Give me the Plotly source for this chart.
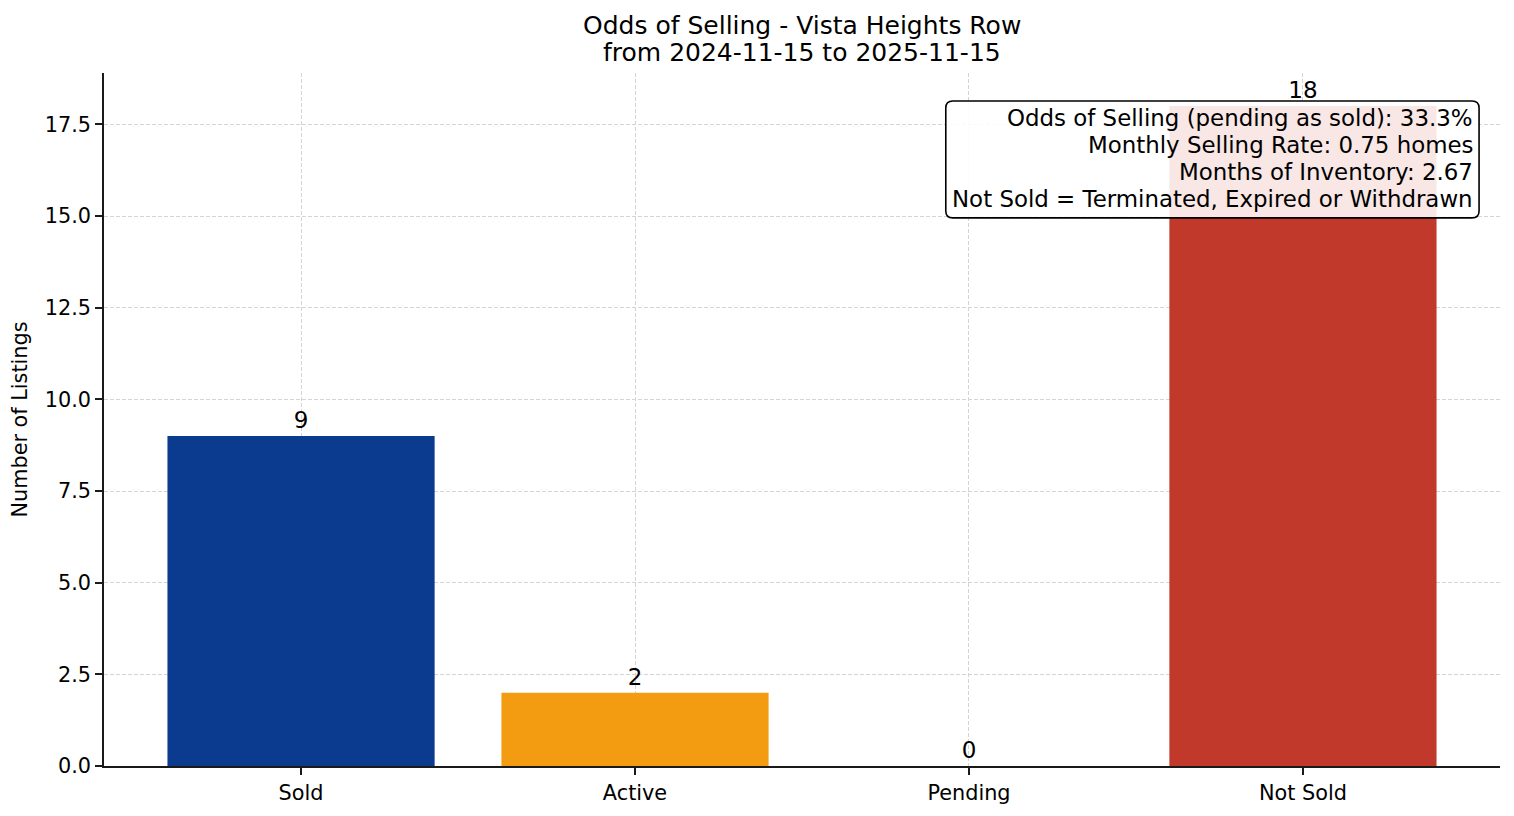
import plotly.graph_objects as go

# listing status counts
categories = ["Sold", "Active", "Pending", "Not Sold"]
counts = [9, 2, 0, 18]
bar_colours = ["#0B3B8F", "#F39C12", "#2E86C1", "#C0392B"]

title_lines = ["Odds of Selling - Vista Heights Row", "from 2024-11-15 to 2025-11-15"]
stats_lines = [
    "Odds of Selling (pending as sold): 33.3%",
    "Monthly Selling Rate: 0.75 homes",
    "Months of Inventory: 2.67",
    "Not Sold = Terminated, Expired or Withdrawn",
]

FONT = "DejaVu Sans, Arial, sans-serif"
GRID = "#d4d4d4"
AXIS = "#1a1a1a"

# page body adds an 8px margin, so the figure is sized to fit inside it
FIG_W, FIG_H = 1498, 800
MARGIN = dict(l=96, r=6, t=65, b=42)


def rounded_box(x0, y0, x1, y1, rx, ry):
    """Rounded rectangle path in paper coords (y0 bottom, y1 top)."""
    return (f"M {x0+rx},{y0} L {x1-rx},{y0} Q {x1},{y0} {x1},{y0+ry} "
            f"L {x1},{y1-ry} Q {x1},{y1} {x1-rx},{y1} "
            f"L {x0+rx},{y1} Q {x0},{y1} {x0},{y1-ry} "
            f"L {x0},{y0+ry} Q {x0},{y0} {x0+rx},{y0} Z")


fig = go.Figure()
fig.add_trace(go.Bar(
    x=categories, y=counts,
    marker=dict(color=bar_colours, line=dict(width=0)),
    width=0.8,
    text=[str(v) for v in counts],
    textposition="outside",
    textfont=dict(size=23, color="#000000", family=FONT),
    constraintext="none",
    cliponaxis=False,
))

annotations = []
# two-line title, placed line by line to keep matplotlib-like spacing
for text, y in zip(title_lines, [1.069, 1.029]):
    annotations.append(dict(
        text=text, xref="paper", yref="paper", x=0.5, y=y,
        xanchor="center", yanchor="middle", showarrow=False,
        font=dict(size=25, family=FONT, color="#000000"),
    ))

# stats box text, right aligned
for text, y in zip(stats_lines, [0.935, 0.896, 0.857, 0.818]):
    annotations.append(dict(
        text=text, xref="paper", yref="paper", x=0.982, y=y,
        xanchor="right", yanchor="middle", showarrow=False,
        font=dict(size=22.9, family=FONT, color="#000000"),
    ))

fig.update_layout(
    width=FIG_W, height=FIG_H,
    paper_bgcolor="white", plot_bgcolor="white",
    font=dict(family=FONT, color="#000000", size=20.8),
    margin=MARGIN,
    showlegend=False,
    annotations=annotations,
    shapes=[dict(
        type="path", xref="paper", yref="paper", layer="above",
        path=rounded_box(0.603, 0.791, 0.985, 0.9596, 0.005, 0.01),
        fillcolor="rgba(255,255,255,0.88)",
        line=dict(color="#000000", width=1.6),
    )],
)

fig.update_xaxes(
    type="category", range=[-0.59, 3.59], automargin=False,
    showline=True, linecolor=AXIS, linewidth=1.6,
    ticks="outside", ticklen=7, tickwidth=1.6, tickcolor=AXIS,
    showgrid=True, gridcolor=GRID, griddash="4px,2px", gridwidth=1,
    tickfont=dict(size=20.8),
    layer="above traces",
)
fig.update_yaxes(
    range=[0, 18.9], dtick=2.5, tickformat=".1f",
    showline=True, linecolor=AXIS, linewidth=1.6,
    ticks="outside", ticklen=7, tickwidth=1.6, tickcolor=AXIS,
    showgrid=True, gridcolor=GRID, griddash="4px,2px", gridwidth=1,
    zeroline=False,
    tickfont=dict(size=20.8),
    title=dict(text="Number of Listings", font=dict(size=20.8), standoff=13),
    layer="above traces",
)

fig.write_html("out.html")
